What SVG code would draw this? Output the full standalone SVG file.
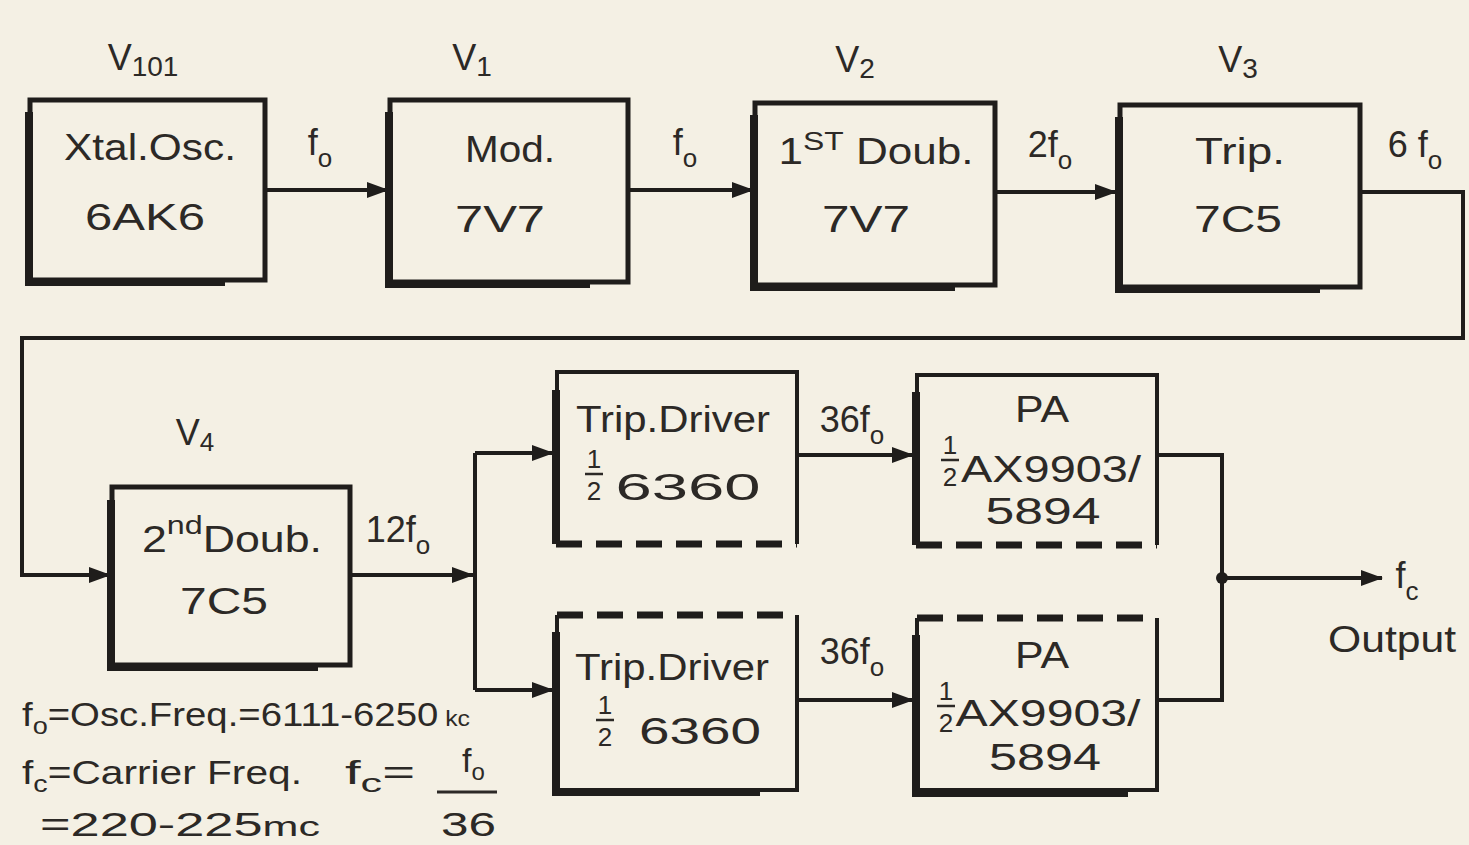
<svg xmlns="http://www.w3.org/2000/svg" width="1469" height="845" viewBox="0 0 1469 845">
<defs>
<marker id="ah" viewBox="0 0 22 16" refX="21" refY="8" markerWidth="22" markerHeight="16" markerUnits="userSpaceOnUse" orient="auto">
<path d="M0 0 L22 8 L0 16 Z" fill="#1f1d1b"/>
</marker>
<style>
.bx{fill:none;stroke:#1f1d1b;stroke-width:5}
.sh{fill:none;stroke:#1f1d1b;stroke-width:8}
.ds{fill:none;stroke:#1f1d1b;stroke-width:7;stroke-dasharray:26 14}
.ln{fill:none;stroke:#1f1d1b;stroke-width:4}
.t{font-family:"Liberation Sans","DejaVu Sans",sans-serif;fill:#2c2926;font-size:36px;text-anchor:middle}
.s{font-size:26px}
.fr{font-family:"Liberation Sans","DejaVu Sans",sans-serif;fill:#2c2926;font-size:26px;text-anchor:middle}
.n{font-family:"Liberation Sans","DejaVu Sans",sans-serif;fill:#2c2926;font-size:34px}
</style>
</defs>
<rect width="1469" height="845" fill="#f4f0e4"/>

<g id="connectors">
<line class="ln" x1="265" y1="190" x2="388" y2="190" marker-end="url(#ah)"/>
<line class="ln" x1="628" y1="190" x2="753" y2="190" marker-end="url(#ah)"/>
<line class="ln" x1="995" y1="192" x2="1116" y2="192" marker-end="url(#ah)"/>
<path class="ln" d="M1360 192 H1463 V338 H22 V575 H110" marker-end="url(#ah)"/>
<line class="ln" x1="350" y1="575" x2="473" y2="575" marker-end="url(#ah)"/>
<path class="ln" d="M475 453 V690"/>
<line class="ln" x1="475" y1="453" x2="553" y2="453" marker-end="url(#ah)"/>
<line class="ln" x1="475" y1="690" x2="553" y2="690" marker-end="url(#ah)"/>
<line class="ln" x1="797" y1="455" x2="913" y2="455" marker-end="url(#ah)"/>
<line class="ln" x1="797" y1="700" x2="913" y2="700" marker-end="url(#ah)"/>
<path class="ln" d="M1157 455 H1222 V700 H1157"/>
<circle cx="1222" cy="578" r="6" fill="#1f1d1b"/>
<line class="ln" x1="1222" y1="578" x2="1382" y2="578" marker-end="url(#ah)"/>
<text class="t" x="320" y="155" font-size="38">f<tspan class="s" dy="12">o</tspan></text>
<text class="t" x="685" y="155" font-size="38">f<tspan class="s" dy="12">o</tspan></text>
<text class="t" x="1050" y="157" font-size="40">2f<tspan class="s" dy="12">o</tspan></text>
<text class="t" x="1415" y="157" font-size="40">6 f<tspan class="s" dy="12">o</tspan></text>
<text class="t" x="398" y="542" font-size="36">12f<tspan class="s" dy="12">o</tspan></text>
<text class="t" x="852" y="432" font-size="36">36f<tspan class="s" dy="12">o</tspan></text>
<text class="t" x="852" y="664" font-size="36">36f<tspan class="s" dy="12">o</tspan></text>
<text class="t" x="1407" y="588" font-size="40">f<tspan class="s" dy="12">c</tspan></text>
<text class="t" x="1392" y="652" font-size="34" textLength="128" lengthAdjust="spacingAndGlyphs">Output</text>
</g>

<g id="n-v101">
<text class="t" x="143" y="70" font-size="40">V<tspan font-size="28" dy="6">101</tspan></text>
<rect class="bx" x="30" y="100" width="235" height="180"/>
<path class="sh" d="M29 112 V282 H225"/>
<text class="t" x="150" y="160" font-size="36" textLength="172" lengthAdjust="spacingAndGlyphs">Xtal.Osc.</text>
<text class="t" x="145" y="230" font-size="42" textLength="120" lengthAdjust="spacingAndGlyphs">6AK6</text>
</g>

<g id="n-v1">
<text class="t" x="472" y="70" font-size="40">V<tspan font-size="28" dy="6">1</tspan></text>
<rect class="bx" x="390" y="100" width="238" height="182"/>
<path class="sh" d="M389 112 V284 H590"/>
<text class="t" x="510" y="162" font-size="38" textLength="90" lengthAdjust="spacingAndGlyphs">Mod.</text>
<text class="t" x="500" y="232" font-size="42" textLength="90" lengthAdjust="spacingAndGlyphs">7V7</text>
</g>

<g id="n-v2">
<text class="t" x="855" y="72" font-size="40">V<tspan font-size="28" dy="6">2</tspan></text>
<rect class="bx" x="755" y="103" width="240" height="182"/>
<path class="sh" d="M754 115 V287 H955"/>
<text class="t" x="876" y="164" font-size="38" textLength="195" lengthAdjust="spacingAndGlyphs">1<tspan class="s" dy="-14">ST</tspan><tspan dy="14"> Doub.</tspan></text>
<text class="t" x="866" y="232" font-size="42" textLength="88" lengthAdjust="spacingAndGlyphs">7V7</text>
</g>

<g id="n-v3">
<text class="t" x="1238" y="72" font-size="40">V<tspan font-size="28" dy="6">3</tspan></text>
<rect class="bx" x="1120" y="105" width="240" height="182"/>
<path class="sh" d="M1119 117 V289 H1320"/>
<text class="t" x="1240" y="164" font-size="38" textLength="90" lengthAdjust="spacingAndGlyphs">Trip.</text>
<text class="t" x="1238" y="232" font-size="42" textLength="88" lengthAdjust="spacingAndGlyphs">7C5</text>
</g>

<g id="n-v4">
<text class="t" x="195" y="445" font-size="38">V<tspan font-size="26" dy="6">4</tspan></text>
<rect class="bx" x="112" y="487" width="238" height="178"/>
<path class="sh" d="M111 500 V667 H318"/>
<text class="t" x="232" y="552" font-size="36" textLength="180" lengthAdjust="spacingAndGlyphs">2<tspan class="s" dy="-18">nd</tspan><tspan dy="18">Doub.</tspan></text>
<text class="t" x="224" y="614" font-size="42" textLength="88" lengthAdjust="spacingAndGlyphs">7C5</text>
</g>

<g id="n-td1">
<path class="ln" d="M557 544 V372 H797 V544" stroke-width="5"/>
<path class="sh" d="M556 390 V544"/>
<line class="ds" x1="556" y1="544" x2="797" y2="544"/>
<text class="t" x="673" y="432" font-size="36" textLength="194" lengthAdjust="spacingAndGlyphs">Trip.Driver</text>
<text class="fr" x="594" y="468">1</text>
<line x1="585" y1="474" x2="603" y2="474" stroke="#2c2926" stroke-width="2.5"/>
<text class="fr" x="594" y="500">2</text>
<text class="t" x="688" y="500" font-size="44" textLength="145" lengthAdjust="spacingAndGlyphs">6360</text>
</g>

<g id="n-td2">
<path class="ln" d="M557 615 V790 H797 V615" stroke-width="5"/>
<path class="sh" d="M556 632 V792 H760"/>
<line class="ds" x1="557" y1="615" x2="797" y2="615"/>
<text class="t" x="672" y="680" font-size="36" textLength="194" lengthAdjust="spacingAndGlyphs">Trip.Driver</text>
<text class="fr" x="605" y="714">1</text>
<line x1="596" y1="720" x2="614" y2="720" stroke="#2c2926" stroke-width="2.5"/>
<text class="fr" x="605" y="746">2</text>
<text class="t" x="700" y="744" font-size="44" textLength="122" lengthAdjust="spacingAndGlyphs">6360</text>
</g>

<g id="n-pa1">
<path class="ln" d="M917 545 V375 H1157 V545" stroke-width="5"/>
<path class="sh" d="M916 392 V545"/>
<line class="ds" x1="916" y1="545" x2="1157" y2="545"/>
<text class="t" x="1042" y="422" font-size="38" textLength="54" lengthAdjust="spacingAndGlyphs">PA</text>
<text class="fr" x="950" y="454">1</text>
<line x1="941" y1="460" x2="959" y2="460" stroke="#2c2926" stroke-width="2.5"/>
<text class="fr" x="950" y="486">2</text>
<text class="t" x="1051" y="482" font-size="40" textLength="180" lengthAdjust="spacingAndGlyphs">AX9903/</text>
<text class="t" x="1043" y="524" font-size="40" textLength="115" lengthAdjust="spacingAndGlyphs">5894</text>
</g>

<g id="n-pa2">
<path class="ln" d="M917 618 V790 H1157 V618" stroke-width="5"/>
<path class="sh" d="M916 635 V793 H1128"/>
<line class="ds" x1="917" y1="618" x2="1157" y2="618"/>
<text class="t" x="1042" y="668" font-size="38" textLength="54" lengthAdjust="spacingAndGlyphs">PA</text>
<text class="fr" x="946" y="700">1</text>
<line x1="937" y1="706" x2="955" y2="706" stroke="#2c2926" stroke-width="2.5"/>
<text class="fr" x="946" y="732">2</text>
<text class="t" x="1048" y="726" font-size="40" textLength="185" lengthAdjust="spacingAndGlyphs">AX9903/</text>
<text class="t" x="1045" y="770" font-size="40" textLength="112" lengthAdjust="spacingAndGlyphs">5894</text>
</g>

<g id="notes">
<text class="n" x="22" y="726" textLength="448" lengthAdjust="spacingAndGlyphs">f<tspan font-size="24" dy="8">o</tspan><tspan dy="-8">=Osc.Freq.=6111-6250</tspan><tspan font-size="22"> kc</tspan></text>
<text class="n" x="22" y="784" textLength="280" lengthAdjust="spacingAndGlyphs">f<tspan font-size="24" dy="8">c</tspan><tspan dy="-8">=Carrier Freq.</tspan></text>
<text class="n" x="345" y="784" font-size="36" textLength="70" lengthAdjust="spacingAndGlyphs">f<tspan font-size="26" dy="8">c</tspan><tspan dy="-8">=</tspan></text>
<text class="n" x="462" y="772" font-size="36">f<tspan font-size="24" dy="8">o</tspan></text>
<line x1="437" y1="792" x2="497" y2="792" stroke="#2c2926" stroke-width="3"/>
<text class="n" x="441" y="836" font-size="44" textLength="55" lengthAdjust="spacingAndGlyphs">36</text>
<text class="n" x="40" y="836" font-size="40" textLength="280" lengthAdjust="spacingAndGlyphs">=220-225<tspan font-size="28">mc</tspan></text>
</g>
</svg>
